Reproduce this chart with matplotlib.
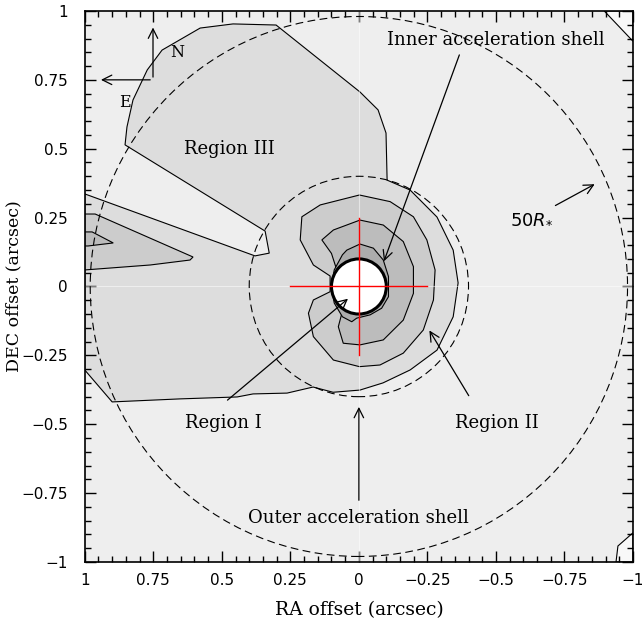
import matplotlib
matplotlib.use("Agg")
import matplotlib.pyplot as plt
from matplotlib.patches import Circle, Polygon

# contour regions (RA, DEC offsets in arcsec)
level1_outline = [
    (1.0, -0.303), (0.900, -0.419), (0.652, -0.408), (0.444, -0.401), (0.386, -0.390),
    (0.262, -0.387), (0.167, -0.365), (0.094, -0.384), (-0.004, -0.376), (-0.088, -0.350),
    (-0.187, -0.303), (-0.285, -0.231), (-0.344, -0.110), (-0.362, 0.013), (-0.344, 0.132),
    (-0.285, 0.252), (-0.187, 0.350), (-0.103, 0.386), (-0.099, 0.557), (-0.070, 0.641),
    (-0.004, 0.706), (0.302, 0.949), (0.459, 0.953), (0.579, 0.938), (0.718, 0.858),
    (0.772, 0.786), (0.824, 0.677), (0.846, 0.579), (0.853, 0.514), (0.342, 0.201),
    (0.327, 0.121), (0.379, 0.111), (1.0, 0.336),
]
level2_wedge = [
    (1.0, 0.263), (0.962, 0.263), (0.605, 0.107), (0.616, 0.096), (0.761, 0.078), (1.0, 0.060),
]
level3_wedge = [
    (1.0, 0.198), (0.973, 0.198), (0.896, 0.158), (0.988, 0.147), (1.0, 0.147),
]
level2_core = [
    (0.105, 0.038), (0.166, 0.078), (0.214, 0.169), (0.208, 0.253), (0.141, 0.296),
    (-0.002, 0.332), (-0.114, 0.308), (-0.199, 0.253), (-0.248, 0.169), (-0.278, 0.060),
    (-0.272, -0.049), (-0.235, -0.158), (-0.162, -0.242), (-0.077, -0.285), (-0.002, -0.291),
    (0.093, -0.267), (0.166, -0.182), (0.184, -0.097), (0.166, -0.049), (0.105, -0.019),
]
level3_core = [
    (0.10, 0.12), (0.135, 0.169), (0.093, 0.205), (-0.004, 0.241), (-0.089, 0.223),
    (-0.162, 0.163), (-0.199, 0.072), (-0.199, -0.025), (-0.162, -0.122), (-0.089, -0.194),
    (-0.004, -0.212), (0.057, -0.206), (0.075, -0.146), (0.062, -0.097), (0.032, -0.091),
]
level4_core = [
    (0.06, 0.115), (0.044, 0.132), (-0.004, 0.154), (-0.053, 0.139), (-0.089, 0.096),
    (-0.108, 0.036), (-0.108, -0.037), (-0.083, -0.079), (-0.041, -0.103), (0.008, -0.115),
    (0.026, -0.128), (0.06, -0.11), (0.09, -0.06), (0.10, 0.0), (0.09, 0.06),
]
corner_top = [(-0.895, 1.0), (-1.0, 0.89), (-1.0, 1.0)]
corner_bottom = [(-0.938, -1.0), (-0.945, -0.942), (-1.0, -0.894), (-1.0, -1.0)]

star_radius = 0.10
inner_shell_radius = 0.40
outer_shell_radius = 0.98
cross_half = 0.25

tick_vals = [1, 0.75, 0.5, 0.25, 0, -0.25, -0.5, -0.75, -1]
tick_labels = ['1', '0.75', '0.5', '0.25', '0', '\u22120.25', '\u22120.5', '\u22120.75', '\u22121']

# (text, text position, arrow start, arrow tip)
notes = [
    ('Inner acceleration shell', (-0.50, 0.894), (-0.37, 0.85), (-0.088, 0.082)),
    ('Region I', (0.495, -0.496), (0.487, -0.419), (0.032, -0.038)),
    ('Region II', (-0.504, -0.496), (-0.406, -0.405), (-0.252, -0.151)),
    ('Outer acceleration shell', (0.0, -0.84), (0.0, -0.786), (0.0, -0.427)),
    ('$50R_{*}$', (-0.631, 0.248), (-0.708, 0.289), (-0.869, 0.376)),
]

bg = '#eeeeee'
shades = ['#dddddd', '#cccccc', '#bcbcbc', '#acacac']
serif = 'DejaVu Serif'
fs = 13

fig = plt.figure(figsize=(6.42, 6.27), dpi=100)
ax = fig.add_axes([0.132, 0.1037, 0.854, 0.8788])
ax.set_facecolor(bg)

def region(pts, color, z):
    ax.add_patch(Polygon(pts, closed=True, facecolor=color, edgecolor='black', lw=0.8, zorder=z))

region(level1_outline, shades[0], 1)
region(level2_wedge, shades[1], 2)
region(level3_wedge, shades[2], 3)
region(level2_core, shades[1], 2)
region(level3_core, shades[2], 3)
region(level4_core, shades[3], 4)
region(corner_top, '#f8f8f8', 1)
region(corner_bottom, '#f8f8f8', 1)

ax.axhline(0, color='white', lw=0.8, alpha=0.5, zorder=4.5)
ax.axvline(0, color='white', lw=0.8, alpha=0.5, zorder=4.5)

ax.add_patch(Circle((0, 0), star_radius, facecolor='white', edgecolor='black', lw=2.2, zorder=5))
for r in (inner_shell_radius, outer_shell_radius):
    ax.add_patch(Circle((0, 0), r, fill=False, edgecolor='black', lw=0.8, ls=(0, (7, 4)), zorder=6))

ax.plot([cross_half, -cross_half], [0, 0], color='red', lw=1, zorder=7)
ax.plot([0, 0], [cross_half, -cross_half], color='red', lw=1, zorder=7)

arrow = dict(arrowstyle='->', lw=0.9, color='black', mutation_scale=17)
for text, tpos, start, tip in notes:
    ax.annotate('', xy=tip, xytext=start, arrowprops=arrow, zorder=8)
    ax.text(tpos[0], tpos[1], text, ha='center', va='center', fontsize=fs, family=serif, zorder=8)

ax.text(0.473, 0.499, 'Region III', ha='center', va='center', fontsize=fs, family=serif, zorder=8)

# compass
ax.annotate('', xy=(0.751, 0.95), xytext=(0.751, 0.75), arrowprops=arrow, zorder=8)
ax.annotate('', xy=(0.951, 0.75), xytext=(0.751, 0.75), arrowprops=arrow, zorder=8)
ax.text(0.663, 0.851, 'N', ha='center', va='center', fontsize=fs - 1.5, family=serif)
ax.text(0.853, 0.666, 'E', ha='center', va='center', fontsize=fs - 1.5, family=serif)

ax.set_xlim(1, -1)
ax.set_ylim(-1, 1)
ax.set_xticks(tick_vals)
ax.set_xticklabels(tick_labels)
ax.set_yticks(tick_vals)
ax.set_yticklabels(tick_labels)
ax.set_xticks([i / 20 for i in range(-20, 21)], minor=True)
ax.set_yticks([i / 20 for i in range(-20, 21)], minor=True)
ax.tick_params(which='both', direction='in', top=True, right=True, labelsize=11, width=1)
ax.tick_params(which='major', length=8)
ax.tick_params(which='minor', length=4)
ax.tick_params(axis='x', pad=8)
ax.tick_params(axis='y', pad=12)
for s in ax.spines.values():
    s.set_linewidth(1.2)
    s.set_zorder(10)

ax.set_xlabel('RA offset (arcsec)', fontsize=13.5, family=serif, va='center')
ax.set_ylabel('DEC offset (arcsec)', fontsize=12.5, family=serif, va='center')
ax.xaxis.set_label_coords(0.5, -0.087)
ax.yaxis.set_label_coords(-0.129, 0.5)

fig.savefig('out.png', dpi=100)
